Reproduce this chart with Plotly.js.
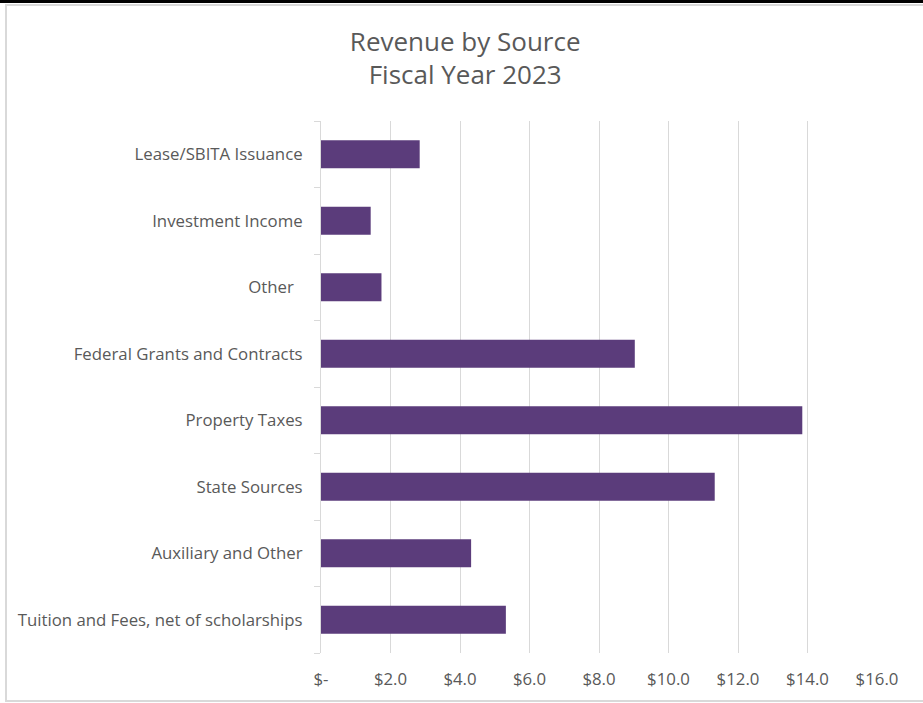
<!DOCTYPE html>
<html>
<head>
<meta charset="utf-8">
<script src="https://cdn.plot.ly/plotly-3.0.1.min.js"></script>
<style>
  html, body { margin: 0; padding: 0; background: #ffffff; }
  #wrap { position: relative; width: 923px; height: 703px; overflow: hidden; }
  #chart { position: absolute; left: 0; top: 0; width: 923px; height: 703px; }
  #topbar { position: absolute; left: 0; top: 0; width: 923px; height: 3px; background: #000; }
  #frame { position: absolute; left: 5px; top: 4px; width: 940px; height: 698px;
           border-left: 2px solid #d9d9d9; border-top: 2px solid #d9d9d9; border-bottom: 2px solid #d9d9d9;
           box-sizing: border-box; pointer-events: none; }
</style>
</head>
<body>
<div id="wrap">
  <div id="chart"></div>
  <div id="topbar"></div>
  <div id="frame"></div>
</div>
<script>
// Categories listed bottom to top (as drawn on the axis)
const categories = [
  "Tuition and Fees, net of scholarships",
  "Auxiliary and Other",
  "State Sources",
  "Property Taxes",
  "Federal Grants and Contracts",
  "Other\u00a0\u00a0",
  "Investment Income",
  "Lease/SBITA Issuance"
];
const revenue = [5.32, 4.32, 11.33, 13.85, 9.03, 1.74, 1.43, 2.84];
const tickValues = [0, 2, 4, 6, 8, 10, 12, 14, 16];
const tickLabels = ["$-", "$2.0", "$4.0", "$6.0", "$8.0", "$10.0", "$12.0", "$14.0", "$16.0"];

const fontFamily = "'Open Sans', 'Noto Sans', sans-serif";
const textColor = "#595959";
const gridColor = "#d9d9d9";

const trace = {
  type: "bar",
  orientation: "h",
  y: categories,
  x: revenue,
  marker: { color: "#5B3C7B", line: { width: 0 } },
  hoverinfo: "skip"
};

const layout = {
  width: 923,
  height: 703,
  margin: { l: 321, r: 46, t: 121, b: 50, pad: 0 },
  paper_bgcolor: "#ffffff",
  plot_bgcolor: "#ffffff",
  showlegend: false,
  bargap: 0.58,
  font: { family: fontFamily, color: textColor, size: 16.8 },
  title: {
    text: "Revenue by Source<br>Fiscal Year 2023",
    font: { family: fontFamily, size: 26, color: textColor },
    x: 0.504,
    xanchor: "center",
    xref: "container",
    y: 0.928,
    yanchor: "top",
    yref: "container"
  },
  xaxis: {
    range: [0, 16],
    tickmode: "array",
    tickvals: tickValues,
    ticktext: tickLabels,
    showgrid: true,
    gridcolor: gridColor,
    gridwidth: 1,
    zeroline: false,
    showline: false,
    ticks: "",
    ticklabelstandoff: 14,
    tickfont: { family: fontFamily, size: 16.8, color: textColor },
    fixedrange: true
  },
  yaxis: {
    type: "category",
    showgrid: false,
    zeroline: false,
    showline: true,
    linecolor: gridColor,
    linewidth: 1,
    ticks: "outside",
    tickson: "boundaries",
    ticklen: 6,
    tickcolor: gridColor,
    tickwidth: 1,
    ticklabelstandoff: 14,
    tickfont: { family: fontFamily, size: 16.8, color: textColor },
    fixedrange: true
  }
};

Plotly.newPlot("chart", [trace], layout, { displayModeBar: false, staticPlot: true });
</script>
</body>
</html>
